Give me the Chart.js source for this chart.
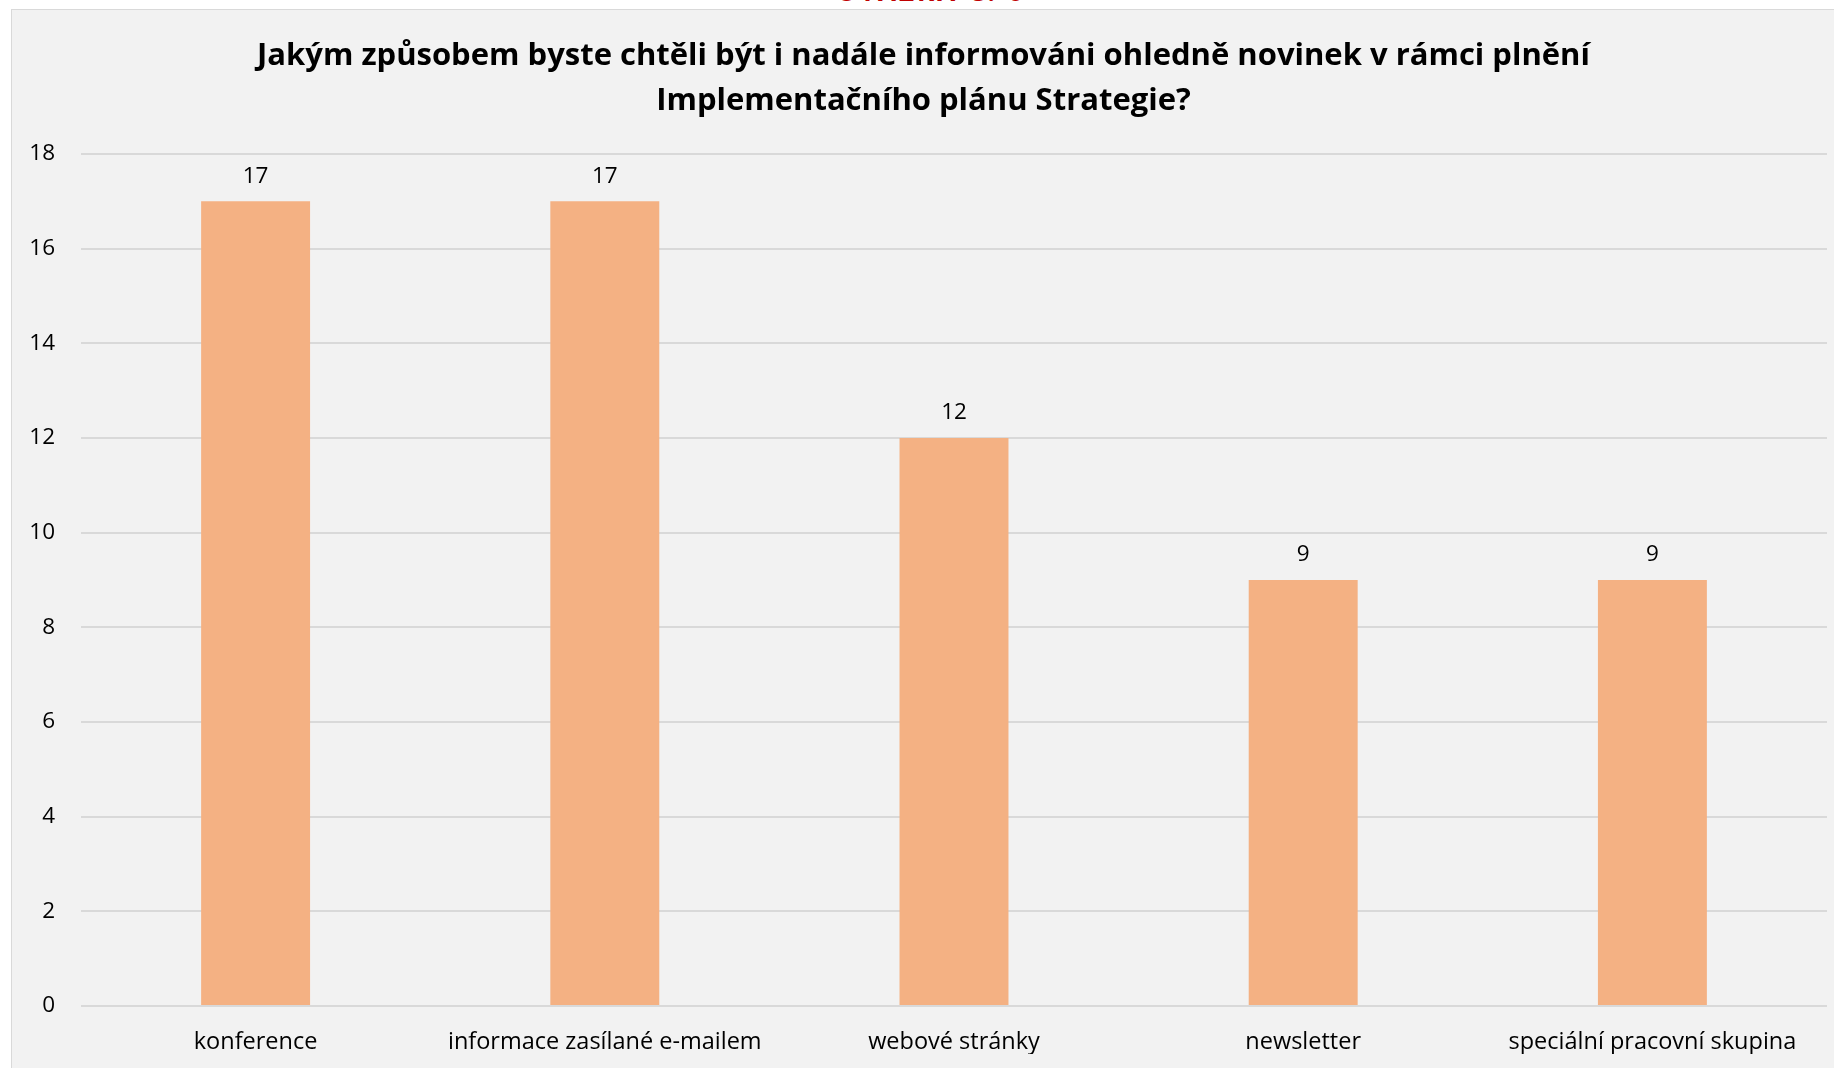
<!DOCTYPE html>
<html><head><meta charset="utf-8">
<script src="https://cdn.jsdelivr.net/npm/chart.js@4/dist/chart.umd.min.js"></script>
<style>
html,body{margin:0;padding:0;background:#fff;width:1834px;height:1068px;overflow:hidden;}
#frame{position:absolute;left:11px;top:9px;width:1840px;height:1080px;background:#f2f2f2;border:1px solid #d9d9d9;box-sizing:border-box;}
#hdr{position:absolute;left:0;width:1862px;top:-27px;text-align:center;font-family:"Open Sans",sans-serif;font-weight:bold;font-size:26px;color:#c00000;letter-spacing:3px;}
#wrap{position:absolute;left:0;top:0;width:1834px;height:1068px;}
</style></head>
<body>
<div id="frame"></div>
<div id="hdr">OTÁZKA Č. 6</div>
<div id="wrap"><canvas id="c"></canvas></div>
<script>
const titleLines = ["Jakým způsobem byste chtěli být i nadále informováni ohledně novinek v rámci plnění", "Implementačního plánu Strategie?"];
const categories = ["konference", "informace zasílané e-mailem", "webové stránky", "newsletter", "speciální pracovní skupina"];
const values = [17, 17, 12, 9, 9];
const yMin = 0, yMax = 18, yStep = 2;

const FONT = '"Open Sans", sans-serif';
const valueLabels = {
  id: 'valueLabels',
  afterDatasetsDraw(chart) {
    const ctx = chart.ctx;
    const meta = chart.getDatasetMeta(0);
    ctx.save();
    ctx.font = '22.5px ' + FONT;
    ctx.fillStyle = '#000';
    ctx.textAlign = 'center';
    ctx.textBaseline = 'middle';
    meta.data.forEach((bar, i) => {
      ctx.fillText(String(values[i]), bar.x, bar.y - 25);
    });
    ctx.restore();
  }
};

new Chart(document.getElementById('c'), {
  type: 'bar',
  data: {
    labels: categories,
    datasets: [{
      data: values,
      backgroundColor: '#f4b183',
      borderWidth: 0,
      barPercentage: 0.312,
      categoryPercentage: 1.0
    }]
  },
  options: {
    responsive: true,
    maintainAspectRatio: false,
    animation: false,
    devicePixelRatio: 1,
    layout: { padding: { left: 20, right: 7, top: 34, bottom: 14 } },
    plugins: {
      legend: { display: false },
      tooltip: { enabled: false },
      title: {
        display: true,
        text: titleLines,
        color: '#000',
        font: { family: FONT, size: 31, weight: 'bold', lineHeight: 1.45 },
        padding: { top: 0, bottom: 30 }
      }
    },
    scales: {
      x: {
        grid: { display: false, drawTicks: false },
        border: { display: false },
        ticks: { color: '#000', font: { family: FONT, size: 23.5 }, padding: 22, maxRotation: 0, autoSkip: false },
        afterFit(scale) { scale.height = 48; }
      },
      y: {
        min: yMin, max: yMax,
        grid: { color: '#d9d9d9', lineWidth: 2, drawTicks: false },
        border: { display: false },
        ticks: { stepSize: yStep, color: '#000', font: { family: FONT, size: 22.5 }, padding: 26 },
        afterFit(scale) { scale.width = 61; }
      }
    }
  },
  plugins: [valueLabels]
});
</script>
</body></html>
